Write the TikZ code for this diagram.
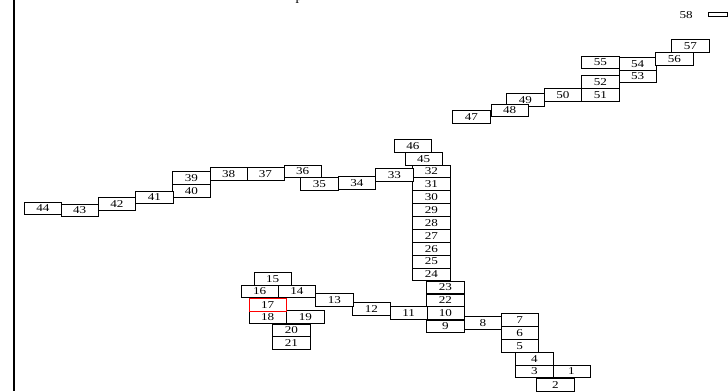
\documentclass[tikz,border=0pt]{standalone}
\usepackage{fontspec}
\setmainfont{Liberation Serif}
\newfontfamily\lblfont[FakeStretch=1.25]{Liberation Serif}
\begin{document}
\begin{tikzpicture}[x=1pt,y=-1pt,
  bx/.style={draw=black, line width=0.8pt, fill=white, anchor=north west,
    minimum width=37.3pt, minimum height=12.8pt, inner sep=0pt, outer sep=0pt,
    font=\lblfont\fontsize{10.5}{11}\selectfont},
  redbx/.style={bx, draw=red}]
\useasboundingbox (0,0) rectangle (728,391);
\draw[line width=1.6pt] (14,0) -- (14,391);
\node[anchor=base west, font=\fontsize{14}{16}\selectfont, inner sep=0pt] (ptxt) at (295.5,0) {p};
% boxes
\node[bx] (n49) at (506.7,93.3) {49};
\node[bx] (n1) at (552.7,365) {1};
\node[bx] (n2) at (536.7,378.3) {2};
\node[bx] (n3) at (515.7,365) {3};
\node[bx] (n4) at (515.7,352.3) {4};
\node[bx] (n5) at (501,339.3) {5};
\node[bx] (n6) at (501,326.7) {6};
\node[bx] (n7) at (501,313.3) {7};
\node[bx] (n8) at (464.3,316.7) {8};
\node[bx] (n9) at (426.7,320) {9};
\node[bx] (n10) at (426.7,306.7) {10};
\node[bx] (n11) at (390,306.7) {11};
\node[bx] (n12) at (352.7,302.7) {12};
\node[bx] (n13) at (315.7,293.3) {13};
\node[bx] (n15) at (254,272.3) {15};
\node[bx] (n16) at (241,285) {16};
\node[bx] (n14) at (278.3,285) {14};
\node[bx] (n18) at (249,310.7) {18};
\node[bx] (n19) at (286.7,310.7) {19};
\node[redbx] (n17) at (249,298.3) {17};
\node[bx] (n20) at (272.7,324) {20};
\node[bx] (n21) at (272.7,336.7) {21};
\node[bx] (n22) at (426.7,294) {22};
\node[bx] (n23) at (426.7,281) {23};
\node[bx] (n24) at (412.7,268) {24};
\node[bx] (n25) at (412.7,255.1) {25};
\node[bx] (n26) at (412.7,242.2) {26};
\node[bx] (n27) at (412.7,229.3) {27};
\node[bx] (n28) at (412.7,216.4) {28};
\node[bx] (n29) at (412.7,203.5) {29};
\node[bx] (n30) at (412.7,190.6) {30};
\node[bx] (n31) at (412.7,177.7) {31};
\node[bx] (n32) at (412.7,165) {32};
\node[bx] (n33) at (375.7,168.3) {33};
\node[bx] (n34) at (338.3,176.7) {34};
\node[bx] (n35) at (300.7,177.3) {35};
\node[bx] (n36) at (284,165) {36};
\node[bx] (n37) at (246.7,167.7) {37};
\node[bx] (n38) at (210,167.7) {38};
\node[bx] (n39) at (172.7,171.7) {39};
\node[bx] (n40) at (172.7,184.3) {40};
\node[bx] (n41) at (135.7,191) {41};
\node[bx] (n42) at (98.3,197.3) {42};
\node[bx] (n44) at (24.3,202) {44};
\node[bx] (n43) at (61,204) {43};
\node[bx] (n46) at (394.3,139.3) {46};
\node[bx] (n45) at (405,152.3) {45};
\node[bx] (n47) at (452.7,110.2) {47};
\node[bx] (n48) at (491,104) {48};
\node[bx] (n50) at (544.3,88.3) {50};
\node[bx] (n51) at (581.7,88.3) {51};
\node[bx] (n52) at (581.7,75.7) {52};
\node[bx] (n53) at (619,70) {53};
\node[bx] (n55) at (581.7,56) {55};
\node[bx] (n54) at (619,57.3) {54};
\node[bx] (n56) at (655.7,52.3) {56};
\node[bx] (n57) at (671.7,39.7) {57};
\node[draw=black, line width=0.8pt, fill=white, anchor=north west, minimum width=18.7pt,
  minimum height=4.4pt, inner sep=0pt, outer sep=0pt] (n58) at (708.3,12.3) {};
\node[font=\lblfont\fontsize{10.5}{11}\selectfont, inner sep=0pt, anchor=east] (l58) at (693,15) {58};
\end{tikzpicture}
\end{document}
